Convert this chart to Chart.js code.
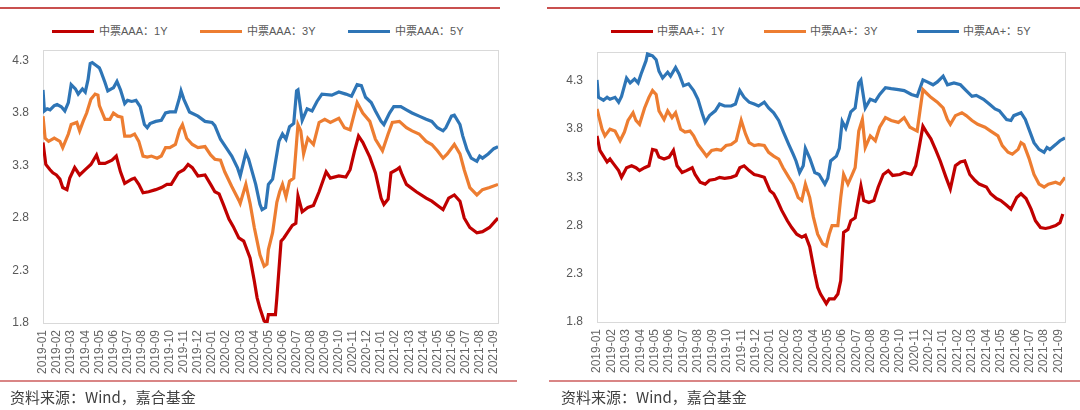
<!DOCTYPE html>
<html>
<head>
<meta charset="utf-8">
<title>中票收益率走势</title>
<script src="https://cdn.jsdelivr.net/npm/chart.js"></script>
<style>
	body {
		margin: 0;
		width: 1080px;
		height: 410px;
		background: #fff;
		position: relative;
		overflow: hidden;
		font-family: "Liberation Sans", "Noto Sans CJK SC", sans-serif;
	}
	.panel { position: absolute; top: 0; width: 540px; height: 410px; }
	.panel canvas { position: absolute; left: 0; top: 0; }
	.rule { position: absolute; height: 2px; background: #c9504f; }
	.rule.low { background: #d98585; }
	.key { position: absolute; top: 24px; font-size: 11px; line-height: 14px; color: #595959; white-space: nowrap; }
	.key i { position: absolute; top: 6px; width: 42px; height: 3px; }
	.key span { position: absolute; }
	.source { position: absolute; top: 387px; font-size: 15px; line-height: 20px; color: #404040; font-family: "Noto Sans CJK SC", sans-serif; }
</style>
</head>
<body>
	<div class="rule" style="left:0; top:7px; width:500px"></div>
	<div class="rule" style="left:547px; top:7px; width:533px"></div>
	<div class="rule low" style="left:0; top:380px; width:517px"></div>
	<div class="rule low" style="left:549px; top:380px; width:531px"></div>

	<div class="key">
		<i style="left:52px; background:#c00000"></i><span style="left:99px">中票AAA：1Y</span>
		<i style="left:200px; background:#ed7d31"></i><span style="left:247px">中票AAA：3Y</span>
		<i style="left:348px; background:#2e75b6"></i><span style="left:395px">中票AAA：5Y</span>
		<i style="left:611px; background:#c00000"></i><span style="left:657px">中票AA+：1Y</span>
		<i style="left:764px; background:#ed7d31"></i><span style="left:810px">中票AA+：3Y</span>
		<i style="left:917px; background:#2e75b6"></i><span style="left:963px">中票AA+：5Y</span>
	</div>

	<div class="panel" style="left:0"><canvas id="chartAAA" width="540" height="410"></canvas></div>
	<div class="panel" style="left:540px"><canvas id="chartAAp" width="540" height="410"></canvas></div>

	<div class="source" style="left:10px">资料来源：Wind，嘉合基金</div>
	<div class="source" style="left:561px">资料来源：Wind，嘉合基金</div>

<script>
	const monthLabels = [
		"2019-01", "2019-02", "2019-03", "2019-04", "2019-05", "2019-06", "2019-07", "2019-08", "2019-09", "2019-10", "2019-11", "2019-12",
		"2020-01", "2020-02", "2020-03", "2020-04", "2020-05", "2020-06", "2020-07", "2020-08", "2020-09", "2020-10", "2020-11", "2020-12",
		"2021-01", "2021-02", "2021-03", "2021-04", "2021-05", "2021-06", "2021-07", "2021-08", "2021-09",
	];
	const yTicks = [1.8, 2.3, 2.8, 3.3, 3.8, 4.3];

	// points are [months since 2019-01, yield %]
	const aaa1y = [[0,3.52],[0.2,3.31],[0.5,3.26],[0.7,3.23],[0.95,3.21],[1.2,3.17],[1.4,3.09],[1.7,3.07],[1.9,3.18],[2.25,3.28],[2.6,3.21],[3.0,3.26],[3.4,3.31],[3.8,3.4],[4.0,3.32],[4.4,3.32],[4.9,3.35],[5.2,3.39],[5.5,3.24],[5.8,3.13],[6.3,3.17],[6.5,3.18],[6.8,3.12],[7.1,3.04],[7.5,3.05],[8.0,3.07],[8.4,3.09],[8.8,3.12],[9.1,3.12],[9.6,3.23],[10.0,3.26],[10.3,3.31],[10.6,3.28],[11.0,3.2],[11.5,3.21],[11.9,3.12],[12.2,3.05],[12.5,3.03],[12.8,2.93],[13.2,2.79],[13.5,2.72],[13.9,2.61],[14.25,2.58],[14.5,2.49],[14.7,2.42],[15.0,2.2],[15.2,2.04],[15.4,1.94],[15.7,1.82],[15.9,1.8],[16.0,1.88],[16.5,1.88],[16.6,2.04],[16.9,2.58],[17.1,2.61],[17.4,2.67],[17.7,2.73],[17.95,2.75],[18.1,3.01],[18.4,2.86],[18.8,2.9],[19.2,2.92],[19.6,3.05],[20.1,3.24],[20.4,3.18],[21.0,3.2],[21.5,3.19],[21.8,3.26],[22.1,3.43],[22.4,3.58],[22.7,3.52],[23.2,3.38],[23.6,3.23],[24.0,2.99],[24.2,2.93],[24.5,2.98],[24.7,3.23],[25.1,3.26],[25.3,3.28],[25.5,3.21],[25.8,3.12],[26.5,3.05],[27.2,2.99],[27.6,2.96],[28.1,2.91],[28.4,2.88],[28.8,2.99],[29.2,3.02],[29.6,2.96],[29.9,2.8],[30.3,2.71],[30.8,2.66],[31.2,2.67],[31.7,2.71],[32.1,2.77],[32.3,2.8]];
	const aaa3y = [[0,3.77],[0.15,3.56],[0.4,3.53],[0.8,3.56],[1.2,3.53],[1.4,3.47],[1.8,3.6],[2.0,3.69],[2.4,3.71],[2.6,3.63],[2.85,3.72],[3.1,3.8],[3.4,3.93],[3.7,3.98],[3.9,3.97],[4.0,3.87],[4.4,3.74],[4.75,3.74],[5.0,3.8],[5.3,3.77],[5.6,3.76],[5.8,3.58],[6.2,3.58],[6.5,3.6],[6.8,3.53],[7.1,3.39],[7.4,3.38],[7.7,3.39],[8.1,3.37],[8.4,3.39],[8.7,3.47],[9.0,3.47],[9.4,3.5],[9.7,3.64],[9.9,3.69],[10.2,3.56],[10.6,3.5],[11.0,3.47],[11.5,3.48],[11.9,3.4],[12.2,3.36],[12.6,3.35],[12.9,3.24],[13.4,3.1],[13.9,2.97],[14.0,2.94],[14.4,3.12],[14.7,2.94],[15.0,2.71],[15.2,2.58],[15.4,2.45],[15.7,2.34],[15.9,2.36],[16.0,2.5],[16.3,2.66],[16.6,2.95],[16.8,3.05],[17.0,3.12],[17.25,3.0],[17.5,3.15],[17.8,3.18],[18.1,3.69],[18.3,3.63],[18.5,3.41],[18.8,3.56],[19.2,3.5],[19.6,3.71],[20.0,3.74],[20.4,3.71],[21.0,3.75],[21.4,3.66],[21.8,3.64],[22.3,3.9],[22.7,3.8],[23.2,3.72],[23.6,3.55],[24.1,3.44],[24.5,3.6],[24.8,3.71],[25.3,3.72],[25.8,3.66],[26.2,3.63],[26.7,3.6],[27.2,3.53],[27.6,3.5],[28.0,3.44],[28.4,3.37],[28.7,3.41],[29.2,3.5],[29.6,3.41],[29.9,3.26],[30.3,3.09],[30.8,3.02],[31.2,3.07],[31.7,3.09],[32.3,3.12]];
	const aaa5y = [[0,4.02],[0.1,3.82],[0.3,3.84],[0.5,3.83],[0.8,3.87],[1.0,3.88],[1.3,3.86],[1.55,3.82],[1.8,3.9],[2.0,4.07],[2.3,4.03],[2.5,3.98],[2.8,4.03],[3.0,4.0],[3.2,4.12],[3.35,4.27],[3.5,4.28],[3.8,4.25],[4.0,4.23],[4.1,4.2],[4.4,4.09],[4.6,4.01],[4.85,4.03],[5.0,4.04],[5.25,4.1],[5.5,4.02],[5.8,3.89],[6.0,3.92],[6.3,3.91],[6.6,3.92],[6.9,3.86],[7.2,3.69],[7.4,3.66],[7.6,3.7],[8.0,3.72],[8.4,3.73],[8.7,3.8],[9.0,3.81],[9.4,3.81],[9.7,3.95],[9.8,4.01],[10.0,3.93],[10.4,3.81],[11.0,3.77],[11.5,3.72],[12.0,3.71],[12.2,3.68],[12.6,3.55],[13.0,3.47],[13.4,3.39],[13.8,3.28],[14.0,3.2],[14.4,3.42],[14.6,3.36],[15.1,3.12],[15.4,2.93],[15.55,2.88],[15.8,2.9],[16.0,3.12],[16.3,3.17],[16.75,3.53],[17.0,3.6],[17.25,3.55],[17.5,3.67],[17.8,3.7],[18.0,4.01],[18.1,4.02],[18.4,3.73],[18.75,3.84],[19.1,3.82],[19.45,3.91],[19.8,3.98],[20.5,3.97],[21.0,4.0],[21.5,3.98],[21.9,3.96],[22.3,4.07],[22.6,4.06],[22.9,3.95],[23.3,3.9],[23.6,3.82],[24.0,3.72],[24.2,3.69],[24.6,3.8],[24.9,3.86],[25.4,3.86],[25.8,3.83],[26.2,3.8],[26.7,3.77],[27.2,3.74],[27.6,3.72],[28.0,3.66],[28.4,3.63],[28.6,3.66],[29.0,3.77],[29.2,3.78],[29.6,3.69],[29.8,3.58],[30.1,3.45],[30.4,3.37],[30.8,3.34],[31.0,3.39],[31.2,3.37],[31.6,3.41],[32.0,3.46],[32.3,3.48]];

	const aap1y = [[0,3.73],[0.2,3.58],[0.45,3.52],[0.7,3.46],[0.9,3.49],[1.15,3.44],[1.5,3.37],[1.7,3.3],[2.05,3.4],[2.4,3.42],[2.7,3.4],[2.95,3.37],[3.3,3.4],[3.6,3.42],[3.85,3.59],[4.1,3.58],[4.3,3.51],[4.65,3.49],[5.0,3.51],[5.3,3.58],[5.55,3.42],[5.9,3.35],[6.2,3.37],[6.6,3.4],[6.8,3.33],[7.15,3.25],[7.5,3.23],[7.8,3.27],[8.2,3.28],[8.5,3.3],[8.85,3.29],[9.3,3.3],[9.65,3.32],[9.9,3.4],[10.2,3.42],[10.55,3.37],[10.9,3.33],[11.2,3.32],[11.6,3.3],[12.0,3.16],[12.25,3.13],[12.5,3.06],[12.8,2.96],[13.2,2.85],[13.5,2.78],[13.85,2.71],[14.2,2.68],[14.45,2.7],[14.75,2.58],[15.1,2.3],[15.3,2.16],[15.5,2.09],[15.9,1.99],[16.1,2.04],[16.45,2.04],[16.7,2.09],[16.9,2.23],[17.1,2.73],[17.4,2.76],[17.6,2.85],[17.9,2.88],[18.3,3.21],[18.5,3.06],[18.85,3.04],[19.2,3.06],[19.5,3.2],[19.85,3.33],[20.2,3.37],[20.5,3.32],[21.0,3.33],[21.3,3.35],[21.8,3.33],[22.1,3.42],[22.3,3.58],[22.6,3.83],[22.8,3.78],[23.15,3.7],[23.5,3.58],[23.8,3.47],[24.2,3.3],[24.5,3.18],[24.85,3.42],[25.2,3.46],[25.5,3.47],[25.85,3.33],[26.2,3.27],[26.5,3.23],[27.0,3.2],[27.3,3.13],[27.7,3.08],[28.0,3.06],[28.4,3.01],[28.7,2.97],[29.1,3.09],[29.4,3.13],[29.75,3.08],[30.1,2.97],[30.4,2.85],[30.75,2.78],[31.1,2.77],[31.4,2.78],[31.8,2.8],[32.1,2.83],[32.3,2.92]];
	const aap3y = [[0,4.01],[0.35,3.8],[0.55,3.73],[0.9,3.8],[1.25,3.78],[1.6,3.68],[1.9,3.77],[2.15,3.89],[2.5,3.97],[2.7,3.89],[2.95,3.85],[3.3,4.02],[3.6,4.13],[3.85,4.2],[4.1,4.16],[4.3,3.99],[4.65,3.9],[4.9,3.99],[5.2,3.92],[5.45,3.97],[5.8,3.8],[6.1,3.77],[6.45,3.78],[6.7,3.73],[7.0,3.64],[7.4,3.56],[7.6,3.52],[7.95,3.58],[8.3,3.59],[8.6,3.58],[8.95,3.63],[9.3,3.64],[9.65,3.68],[10.0,3.89],[10.3,3.75],[10.55,3.66],[10.9,3.63],[11.2,3.64],[11.6,3.63],[11.9,3.56],[12.25,3.52],[12.6,3.49],[12.9,3.4],[13.3,3.3],[13.6,3.23],[13.95,3.09],[14.2,3.06],[14.45,3.23],[14.75,3.09],[15.0,2.89],[15.3,2.71],[15.65,2.61],[15.9,2.59],[16.1,2.71],[16.3,2.8],[16.7,2.8],[16.9,3.09],[17.1,3.33],[17.4,3.23],[17.7,3.33],[17.9,3.4],[18.15,3.78],[18.4,3.9],[18.6,3.61],[18.95,3.73],[19.3,3.68],[19.6,3.82],[20.0,3.92],[20.4,3.89],[20.9,3.87],[21.3,3.92],[21.7,3.82],[22.2,3.78],[22.6,4.21],[22.8,4.18],[23.15,4.13],[23.6,4.08],[24.0,4.02],[24.3,3.9],[24.5,3.85],[24.85,3.94],[25.3,3.97],[25.6,3.94],[26.0,3.89],[26.4,3.85],[26.9,3.82],[27.3,3.78],[27.8,3.73],[28.1,3.63],[28.5,3.56],[28.8,3.54],[29.2,3.59],[29.4,3.66],[29.6,3.64],[29.95,3.5],[30.3,3.33],[30.65,3.23],[31.0,3.2],[31.3,3.23],[31.8,3.25],[32.1,3.23],[32.45,3.3]];
	const aap5y = [[0,4.31],[0.1,4.13],[0.45,4.1],[0.7,4.13],[0.9,4.11],[1.25,4.13],[1.5,4.08],[1.7,4.14],[2.05,4.33],[2.3,4.28],[2.6,4.32],[2.85,4.28],[3.05,4.37],[3.4,4.51],[3.5,4.58],[3.85,4.56],[4.1,4.52],[4.3,4.4],[4.55,4.33],[4.9,4.39],[5.1,4.35],[5.45,4.44],[5.7,4.37],[6.0,4.25],[6.35,4.27],[6.7,4.2],[7.0,4.11],[7.3,3.96],[7.5,3.87],[7.8,3.94],[8.2,3.99],[8.5,4.06],[8.85,4.04],[9.3,4.04],[9.6,4.06],[9.9,4.2],[10.2,4.13],[10.55,4.08],[10.9,4.06],[11.2,4.04],[11.6,4.08],[11.9,4.02],[12.25,3.97],[12.6,3.89],[12.9,3.78],[13.3,3.64],[13.6,3.54],[13.8,3.47],[14.05,3.35],[14.3,3.42],[14.45,3.6],[14.75,3.5],[15.1,3.35],[15.4,3.33],[15.8,3.23],[16.0,3.29],[16.2,3.47],[16.6,3.52],[16.8,3.6],[17.0,3.88],[17.25,3.81],[17.6,3.98],[17.9,4.02],[18.15,4.28],[18.3,4.31],[18.6,4.02],[18.95,4.11],[19.3,4.09],[19.6,4.16],[20.0,4.23],[20.4,4.22],[20.9,4.21],[21.3,4.2],[21.8,4.16],[22.2,4.14],[22.6,4.31],[22.9,4.29],[23.3,4.26],[23.6,4.29],[24.0,4.35],[24.3,4.26],[24.75,4.28],[25.2,4.26],[25.6,4.2],[26.0,4.14],[26.3,4.15],[26.8,4.11],[27.2,4.06],[27.6,4.01],[27.9,3.99],[28.4,3.9],[28.7,3.89],[28.9,3.94],[29.4,3.97],[29.7,3.9],[29.95,3.8],[30.3,3.66],[30.65,3.59],[31.0,3.56],[31.2,3.61],[31.4,3.59],[31.8,3.64],[32.1,3.68],[32.45,3.71]];

	const colors = ["#c00000", "#ed7d31", "#2e75b6"];
	const tickFont = { family: "'Liberation Sans', Arial, sans-serif", size: 12 };

	// light grey box round the plot area, like the excel chart
	const frame = {
		id: "frame",
		beforeDatasetsDraw(chart) {
			const a = chart.chartArea;
			const ctx = chart.ctx;
			ctx.save();
			ctx.strokeStyle = "#d9d9d9";
			ctx.lineWidth = 1;
			ctx.strokeRect(Math.round(a.left) + 0.5, Math.round(a.top) + 0.5, Math.round(a.right - a.left), Math.round(a.bottom - a.top));
			ctx.restore();
		},
	};

	function drawChart(id, series, names, opts) {
		const datasets = series.map((pts, i) => ({
			label: names[i],
			data: pts.map((p) => ({ x: p[0], y: p[1] })),
			borderColor: colors[i],
			borderWidth: 3.2,
			pointRadius: 0,
			tension: 0,
			fill: false,
		}));

		return new Chart(document.getElementById(id), {
			type: "line",
			data: { datasets },
			options: {
				responsive: false,
				animation: false,
				layout: { padding: opts.padding },
				plugins: { legend: { display: false }, tooltip: { enabled: false } },
				scales: {
					x: {
						type: "linear",
						min: 0,
						max: opts.xMax,
						grid: { display: false, drawTicks: false },
						border: { display: false },
						afterBuildTicks: (s) => { s.ticks = monthLabels.map((_, i) => ({ value: i })); },
						afterFit: (s) => { s.height = 57; },
						ticks: {
							autoSkip: false,
							minRotation: 90,
							maxRotation: 90,
							padding: 7,
							color: "#666666",
							font: tickFont,
							callback: (v) => monthLabels[v],
						},
					},
					y: {
						min: 1.8,
						max: opts.yMax,
						grid: { display: false, drawTicks: false },
						border: { display: false },
						afterBuildTicks: (s) => { s.ticks = yTicks.map((v) => ({ value: v })); },
						afterFit: (s) => { s.width = opts.yWidth; },
						ticks: {
							padding: 14,
							color: "#595959",
							font: tickFont,
							callback: (v) => v.toFixed(1),
						},
					},
				},
			},
			plugins: [frame],
		});
	}

	drawChart("chartAAA", [aaa1y, aaa3y, aaa5y], ["中票AAA：1Y", "中票AAA：3Y", "中票AAA：5Y"], {
		xMax: 32.3,
		yMax: 4.4,
		yWidth: 43,
		padding: { top: 50, right: 42, bottom: 30, left: 0 },
	});
	drawChart("chartAAp", [aap1y, aap3y, aap5y], ["中票AA+：1Y", "中票AA+：3Y", "中票AA+：5Y"], {
		xMax: 32.45,
		yMax: 4.6,
		yWidth: 57,
		padding: { top: 52, right: 7, bottom: 31, left: 0 },
	});
</script>
</body>
</html>
